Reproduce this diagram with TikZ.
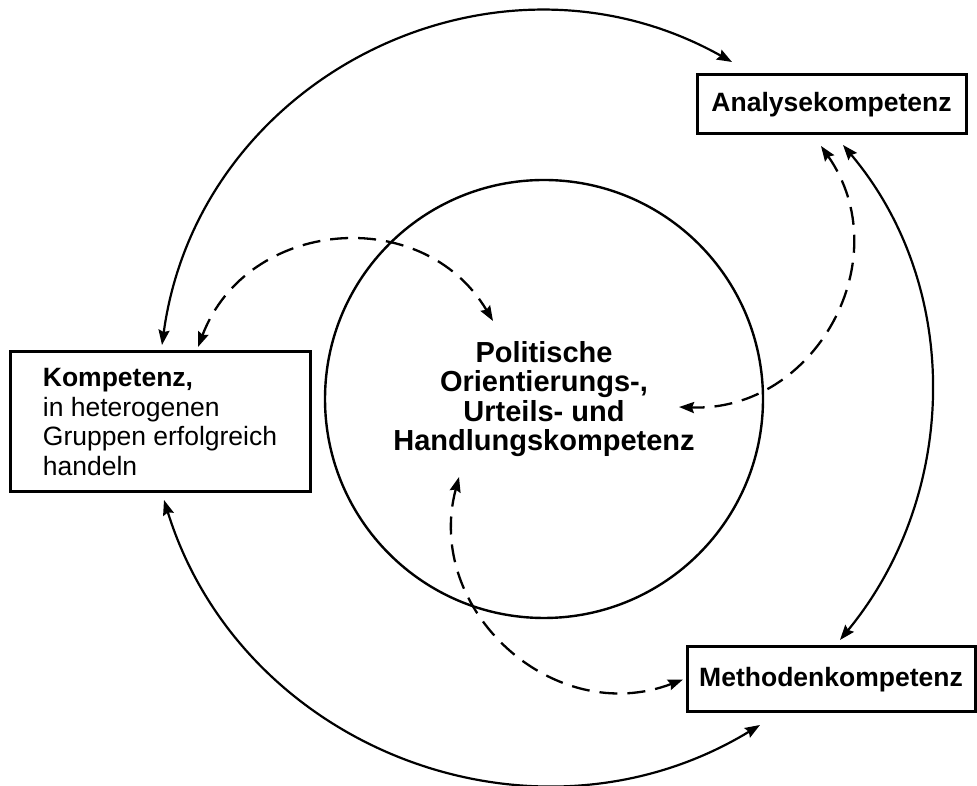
\documentclass[tikz,border=0pt]{standalone}
\usepackage{fontspec}
\newfontfamily\arial{Liberation Sans}
\usetikzlibrary{arrows.meta}
\begin{document}
\begin{tikzpicture}[x=1pt,y=1pt,
  >={Stealth[length=15pt,width=11pt,inset=2pt]},
  boxstyle/.style={draw, line width=3pt, outer sep=0pt, inner sep=0pt},
  boxfont/.style={font=\arial\bfseries\fontsize{26.5}{29.7}\selectfont},
  ringstyle/.style={circle, draw, line width=2.4pt, outer sep=0pt, inner sep=0pt, minimum size=438pt},
  solidlink/.style={line width=2.2pt, <->},
  dashlink/.style={line width=2.3pt, dash pattern=on 18pt off 10pt, <->}
]
\useasboundingbox (0,0) rectangle (977,786);

\node[boxstyle, boxfont, minimum width=269pt, minimum height=59pt] (a) at (831.5,681.5) {Analysekompetenz};
\node[boxstyle, boxfont, minimum width=288pt, minimum height=65pt] (m) at (831,106.5) {Methodenkompetenz};
\node[boxstyle, minimum width=300pt, minimum height=140pt, align=left,
      font=\arial\fontsize{26.5}{29.7}\selectfont] (k) at (160,364)
  {{\bfseries Kompetenz,}\\in heterogenen\\Gruppen erfolgreich\\handeln};
\node[ringstyle, align=center, font=\arial\bfseries\fontsize{29}{29.5}\selectfont] (c) at (544,387)
  {Politische\\Orientierungs-,\\Urteils- und\\Handlungskompetenz};

% solid outer connectors
\draw[solidlink] ([shift={(2,7)}]k.north) .. controls +(82.2:271.6) and +(150.7:271.6) .. ([shift={(35,13)}]a.north west);
\draw[solidlink] ([shift={(11.5,-11)}]a.south) .. controls +(-49.9:186.8) and +(50.6:186.8) .. ([shift={(9,7)}]m.north);
\draw[solidlink] ([shift={(4,-8)}]k.south) .. controls +(-72.7:262.7) and +(211.3:262.7) .. ([shift={(73,-13)}]m.south west);

% dashed inner connectors
\draw[dashlink] ([shift={(-112,5)}]k.north east) .. controls +(69.2:137.6) and +(120.8:137.6) .. ([shift={(-51,78)}]c.center);
\draw[dashlink] ([shift={(-10.5,-12)}]a.south) .. controls +(-55.1:137) and +(-2.1:137) .. ([shift={(135,-8)}]c.center);
\draw[dashlink] ([shift={(-85,-78)}]c.center) .. controls +(255.1:138) and +(200.8:138) .. ([shift={(-4,0)}]m.west);
\end{tikzpicture}
\end{document}
